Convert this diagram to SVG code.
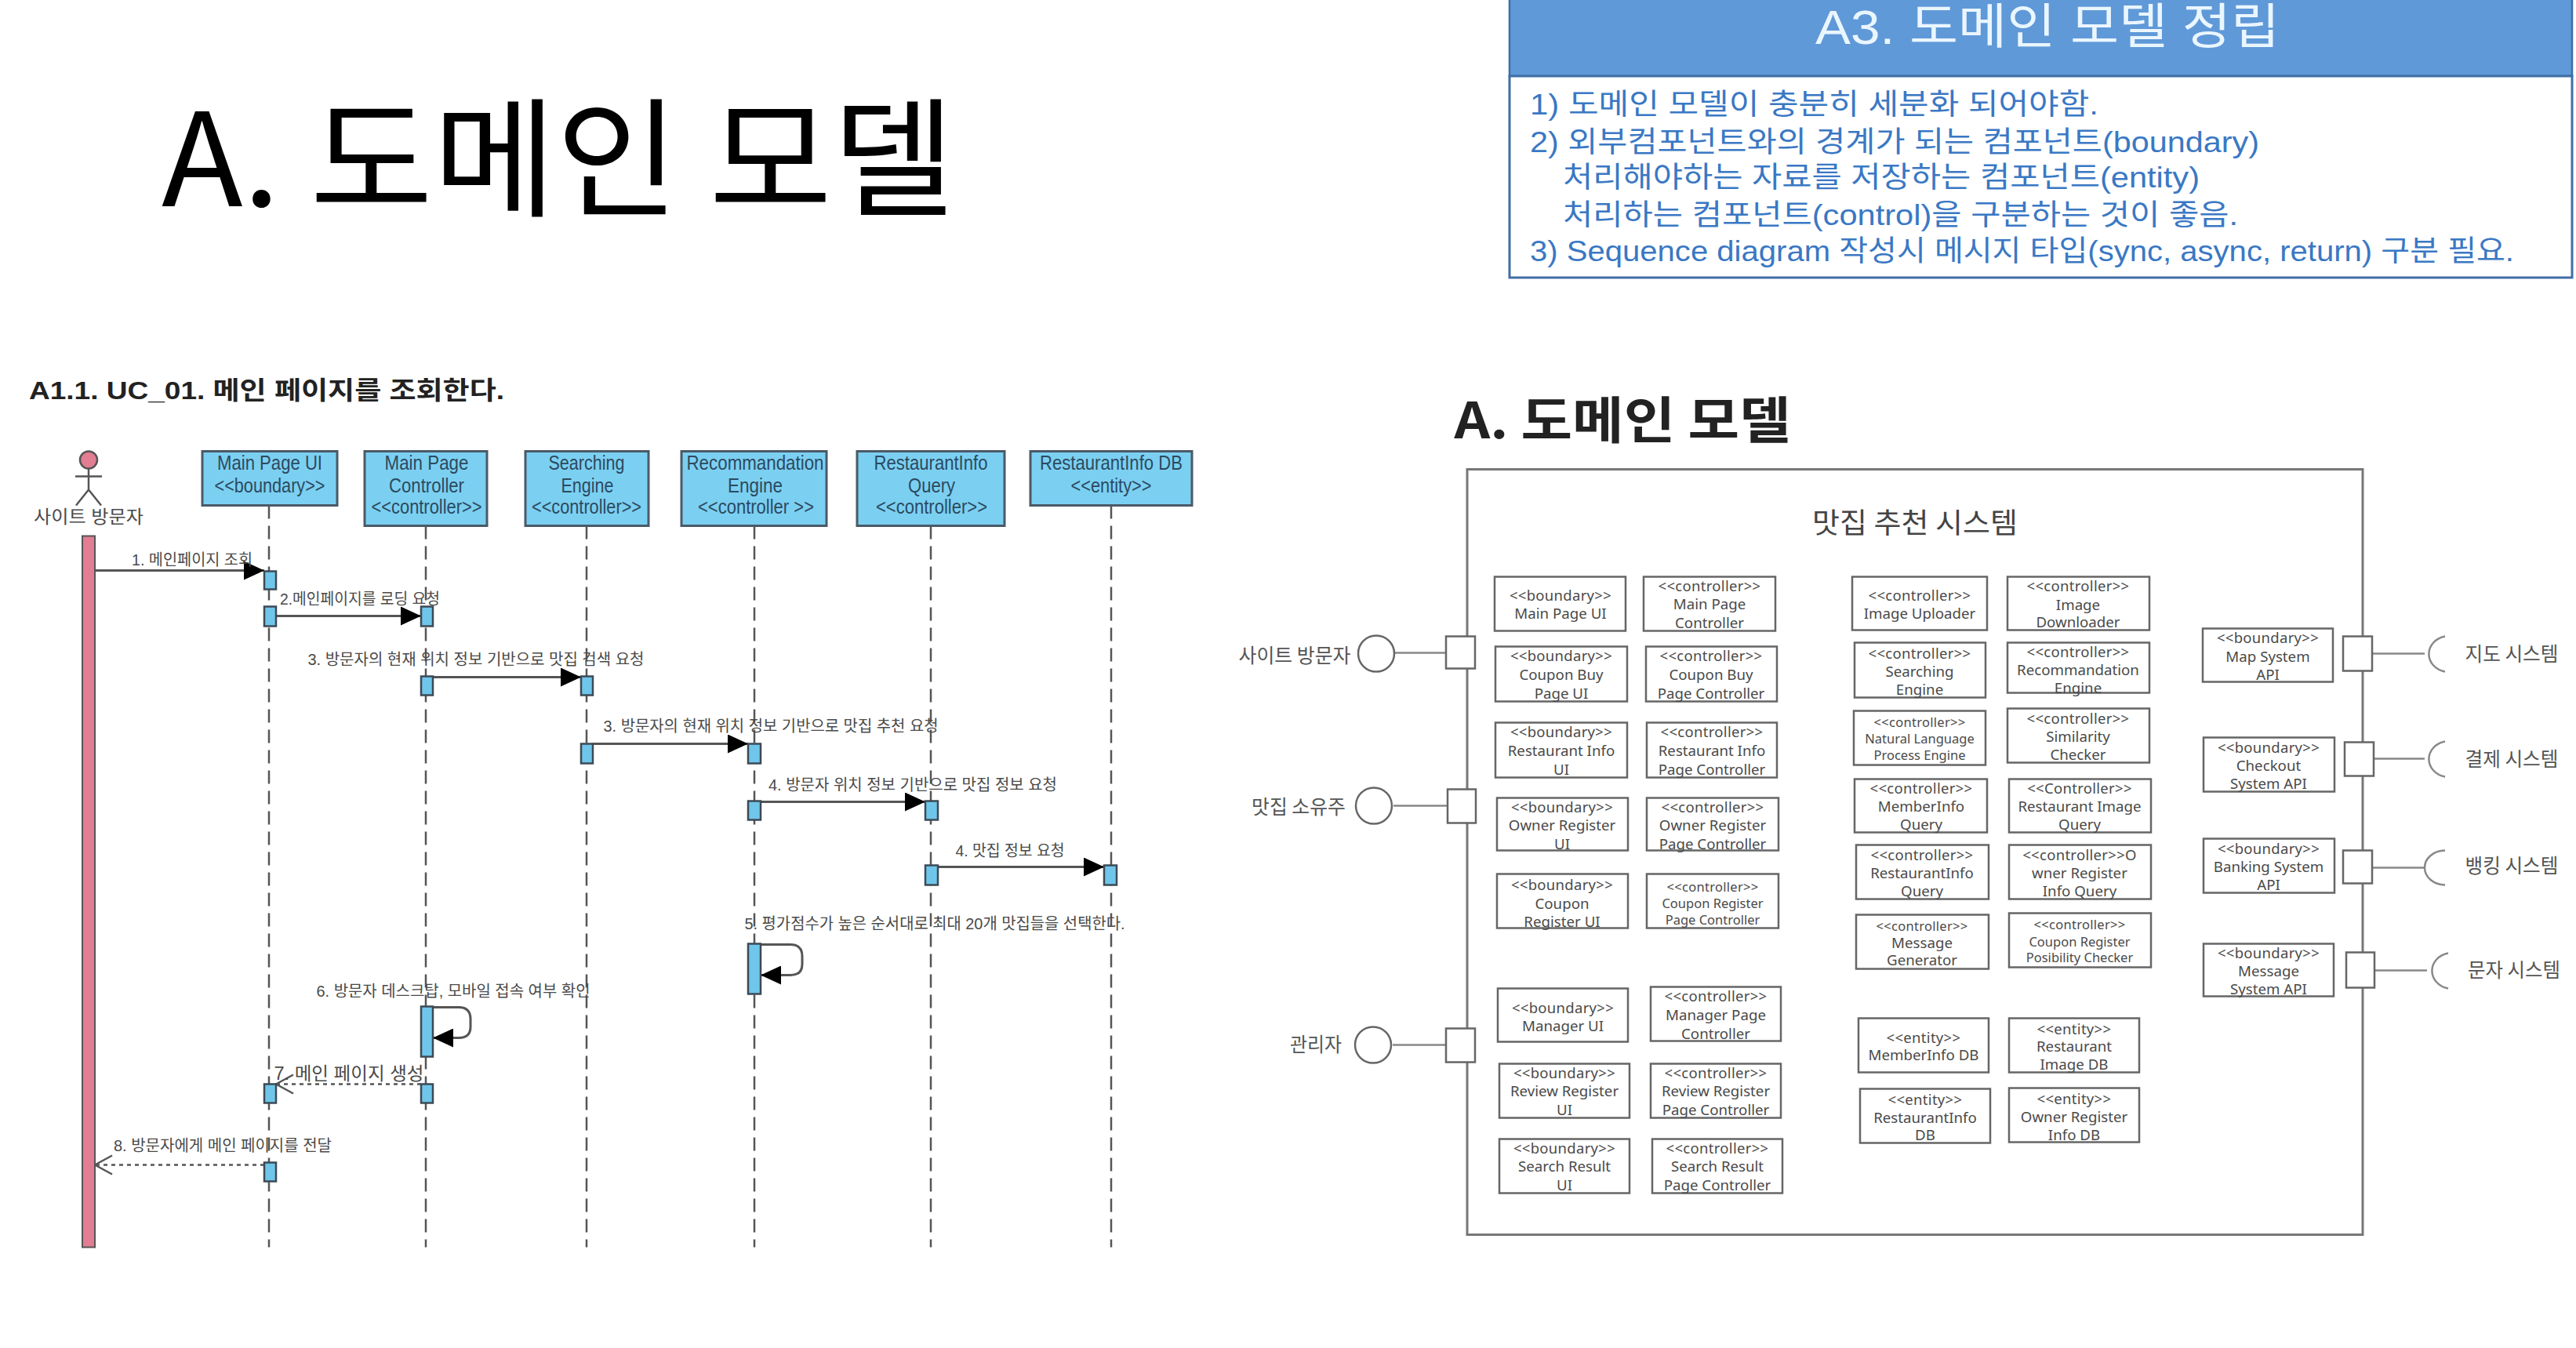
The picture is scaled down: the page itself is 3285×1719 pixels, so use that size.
<svg xmlns="http://www.w3.org/2000/svg" width="3285" height="1719" viewBox="0 0 3285 1719">
<style>
text{font-family:"Noto Sans","Noto Sans CJK KR",sans-serif;text-anchor:middle}
.kr{font-family:"Noto Sans CJK KR","Noto Sans",sans-serif}
.ar{font-family:"Liberation Sans","Noto Sans CJK KR",sans-serif}
.ll{fill:#7BD0F2;stroke:#4a5a66;stroke-width:3}
.act{fill:#6FC6EA;stroke:#3d4a55;stroke-width:2.5}
.lt{font-family:"Liberation Sans","Noto Sans CJK KR",sans-serif;font-size:25px;fill:#2c4a60}
.msg{font-family:"Liberation Sans","Noto Sans CJK KR",sans-serif;font-size:20px;fill:#4a4a4a}
.life{stroke:#555;stroke-width:2.5;stroke-dasharray:17 9;fill:none}
.sync{stroke:#555;stroke-width:3;fill:none;marker-end:url(#fill)}
.ret{stroke:#555;stroke-width:2.5;stroke-dasharray:5 5;fill:none;marker-end:url(#open)}
.box{fill:#fff;stroke:#666;stroke-width:2.5}
.bt{font-size:18.7px;fill:#4a4a4a}
.st{font-size:18.5px;fill:#4a4a4a;letter-spacing:.3px}
.bt.sm,.st.sm{font-size:16.5px}
.port{fill:#fff;stroke:#666;stroke-width:2.5}
.wire{stroke:#888;stroke-width:2.5;fill:none}
.lab{font-size:25px;fill:#555;font-family:"Noto Sans CJK KR",sans-serif}
.a3{font-size:37px;fill:#3A78C4;text-anchor:start;font-family:"Liberation Sans","Noto Sans CJK KR",sans-serif}
</style>
<defs>
<marker id="fill" markerUnits="userSpaceOnUse" markerWidth="26" markerHeight="24" refX="26" refY="12" orient="auto"><path d="M0 0L26 12L0 24z" fill="#000"/></marker>
<marker id="open" markerUnits="userSpaceOnUse" markerWidth="26" markerHeight="28" refX="24" refY="14" orient="auto"><path d="M2 2L24 14L2 26" fill="none" stroke="#555" stroke-width="2.5"/></marker>
</defs>
<rect width="3285" height="1719" fill="#fff"/>

<text class="kr" x="712" y="263" font-size="165" fill="#000" textLength="1012" lengthAdjust="spacingAndGlyphs">A. 도메인 모델</text>
<text class="ar" x="340" y="509" font-size="32" font-weight="700" fill="#222" textLength="606" lengthAdjust="spacingAndGlyphs">A1.1. UC_01. 메인 페이지를 조회한다.</text>

<g id="note-a3">
<rect x="1925" y="-3" width="1355" height="100" fill="#6099D8" stroke="#3F6EA6" stroke-width="2.5"/>
<rect x="1925" y="97" width="1355" height="257" fill="#fff" stroke="#3F6EA6" stroke-width="3"/>
<text class="ar" x="2611" y="56" font-size="62" fill="#EAF6FF" textLength="592" lengthAdjust="spacingAndGlyphs">A3. 도메인 모델 정립</text>
<text class="a3" x="1951" y="146" textLength="725" lengthAdjust="spacingAndGlyphs">1) 도메인 모델이 충분히 세분화 되어야함.</text>
<text class="a3" x="1951" y="194" textLength="930" lengthAdjust="spacingAndGlyphs">2) 외부컴포넌트와의 경계가 되는 컴포넌트(boundary)</text>
<text class="a3" x="1993" y="239" textLength="812" lengthAdjust="spacingAndGlyphs">처리해야하는 자료를 저장하는 컴포넌트(entity)</text>
<text class="a3" x="1993" y="287" textLength="861" lengthAdjust="spacingAndGlyphs">처리하는 컴포넌트(control)을 구분하는 것이 좋음.</text>
<text class="a3" x="1951" y="333" textLength="1255" lengthAdjust="spacingAndGlyphs">3) Sequence diagram 작성시 메시지 타입(sync, async, return) 구분 필요.</text>
</g>

<g id="page" transform="translate(0 1.5)">
<g id="connectors">
<path class="life" d="M343 643V1589"/>
<path class="life" d="M543 669V1589"/>
<path class="life" d="M748 669V1589"/>
<path class="life" d="M962 669V1589"/>
<path class="life" d="M1187 669V1589"/>
<path class="life" d="M1417 643V1589"/>
<path class="sync" d="M121 726H337"/>
<path class="sync" d="M352 784H537"/>
<path class="sync" d="M552 862H741"/>
<path class="sync" d="M756 947H954"/>
<path class="sync" d="M970 1021H1180"/>
<path class="sync" d="M1196 1104H1408"/>
<path class="sync" d="M970 1203H1008Q1023 1203 1023 1218V1228Q1023 1242 1008 1242H970"/>
<path class="sync" d="M552 1283H585Q600 1283 600 1298V1308Q600 1322 585 1322H552"/>
<path class="ret" d="M537 1381H352"/>
<path class="ret" d="M337 1484H121"/>
<path class="wire" d="M1779 831H1844"/>
<path class="wire" d="M1777 1026H1846"/>
<path class="wire" d="M1776 1331H1844"/>
<path class="wire" d="M3025 832H3092"/>
<path class="wire" d="M3027 966H3092"/>
<path class="wire" d="M3025 1105H3092"/>
<path class="wire" d="M3028 1236H3095"/>
<text class="msg" x="245" y="719" textLength="154" lengthAdjust="spacingAndGlyphs">1. 메인페이지 조회</text>
<text class="msg" x="459" y="769" textLength="204" lengthAdjust="spacingAndGlyphs">2.메인페이지를 로딩 요청</text>
<text class="msg" x="607" y="846" textLength="429" lengthAdjust="spacingAndGlyphs">3. 방문자의 현재 위치 정보 기반으로 맛집 검색 요청</text>
<text class="msg" x="983" y="931" textLength="427" lengthAdjust="spacingAndGlyphs">3. 방문자의 현재 위치 정보 기반으로 맛집 추천 요청</text>
<text class="msg" x="1164" y="1006" textLength="368" lengthAdjust="spacingAndGlyphs">4. 방문자 위치 정보 기반으로 맛집 정보 요청</text>
<text class="msg" x="1288" y="1090" textLength="139" lengthAdjust="spacingAndGlyphs">4. 맛집 정보 요청</text>
<text class="msg" x="1192" y="1183" textLength="485" lengthAdjust="spacingAndGlyphs">5. 평가점수가 높은 순서대로 최대 20개 맛집들을 선택한다.</text>
<text class="msg" x="578" y="1269" textLength="349" lengthAdjust="spacingAndGlyphs">6. 방문자 데스크탑, 모바일 접속 여부 확인</text>
<text class="msg" x="445" y="1375" style="font-size:23px" textLength="191" lengthAdjust="spacingAndGlyphs">7. 메인 페이지 생성</text>
<text class="msg" x="284" y="1466" textLength="278" lengthAdjust="spacingAndGlyphs">8. 방문자에게 메인 페이지를 전달</text>
</g>

<g id="actor-visitor">
<ellipse cx="113" cy="585" rx="11" ry="11" fill="#E27D93" stroke="#555" stroke-width="2.5"/>
<path d="M113 596V623M96 606H130M97 643L113 623L129 643" fill="none" stroke="#555" stroke-width="2.5"/>
<text class="msg" x="113" y="665" style="font-size:23px" textLength="140" lengthAdjust="spacingAndGlyphs">사이트 방문자</text>
<rect x="105" y="682" width="16" height="907" fill="#E27D93" stroke="#555" stroke-width="2"/>
</g>
<g id="ll-main-page-ui">
<rect class="ll" x="258" y="574" width="172" height="69"/>
<text class="lt" x="344" y="597" textLength="134" lengthAdjust="spacingAndGlyphs">Main Page UI</text>
<text class="lt" x="344" y="626" textLength="141" lengthAdjust="spacingAndGlyphs">&lt;&lt;boundary&gt;&gt;</text>
<rect class="act" x="337" y="727" width="15" height="23"/>
<rect class="act" x="337" y="772" width="15" height="25"/>
<rect class="act" x="337" y="1381" width="15" height="24"/>
<rect class="act" x="337" y="1481" width="15" height="24"/>
</g>
<g id="ll-main-page-controller">
<rect class="ll" x="465" y="574" width="156" height="95"/>
<text class="lt" x="544" y="597" textLength="107" lengthAdjust="spacingAndGlyphs">Main Page</text>
<text class="lt" x="544" y="626" textLength="96" lengthAdjust="spacingAndGlyphs">Controller</text>
<text class="lt" x="544" y="653" textLength="141" lengthAdjust="spacingAndGlyphs">&lt;&lt;controller&gt;&gt;</text>
<rect class="act" x="537" y="772" width="15" height="25"/>
<rect class="act" x="537" y="861" width="15" height="24"/>
<rect class="act" x="537" y="1282" width="15" height="64"/>
<rect class="act" x="537" y="1381" width="15" height="24"/>
</g>
<g id="ll-searching-engine">
<rect class="ll" x="670" y="574" width="157" height="95"/>
<text class="lt" x="748" y="597" textLength="97" lengthAdjust="spacingAndGlyphs">Searching</text>
<text class="lt" x="749" y="626" textLength="67" lengthAdjust="spacingAndGlyphs">Engine</text>
<text class="lt" x="748" y="653" textLength="140" lengthAdjust="spacingAndGlyphs">&lt;&lt;controller&gt;&gt;</text>
<rect class="act" x="741" y="861" width="15" height="24"/>
<rect class="act" x="741" y="947" width="15" height="25"/>
</g>
<g id="ll-recommandation-engine">
<rect class="ll" x="869" y="574" width="185" height="95"/>
<text class="lt" x="963" y="597" textLength="175" lengthAdjust="spacingAndGlyphs">Recommandation</text>
<text class="lt" x="963" y="626" textLength="70" lengthAdjust="spacingAndGlyphs">Engine</text>
<text class="lt" x="964" y="653" textLength="148" lengthAdjust="spacingAndGlyphs">&lt;&lt;controller &gt;&gt;</text>
<rect class="act" x="954" y="947" width="16" height="25"/>
<rect class="act" x="954" y="1020" width="16" height="24"/>
<rect class="act" x="954" y="1202" width="16" height="64"/>
</g>
<g id="ll-restaurantinfo-query">
<rect class="ll" x="1093" y="574" width="188" height="95"/>
<text class="lt" x="1187" y="597" textLength="145" lengthAdjust="spacingAndGlyphs">RestaurantInfo</text>
<text class="lt" x="1188" y="626" textLength="60" lengthAdjust="spacingAndGlyphs">Query</text>
<text class="lt" x="1188" y="653" textLength="142" lengthAdjust="spacingAndGlyphs">&lt;&lt;controller&gt;&gt;</text>
<rect class="act" x="1180" y="1020" width="16" height="24"/>
<rect class="act" x="1180" y="1102" width="16" height="25"/>
</g>
<g id="ll-restaurantinfo-db">
<rect class="ll" x="1314" y="574" width="206" height="69"/>
<text class="lt" x="1417" y="597" textLength="182" lengthAdjust="spacingAndGlyphs">RestaurantInfo DB</text>
<text class="lt" x="1417" y="626" textLength="103" lengthAdjust="spacingAndGlyphs">&lt;&lt;entity&gt;&gt;</text>
<rect class="act" x="1408" y="1102" width="16" height="25"/>
</g>

<text class="kr" x="2069" y="557" font-size="64" font-weight="700" fill="#222" textLength="429" lengthAdjust="spacingAndGlyphs">A. 도메인 모델</text>

<g id="system">
<rect x="1871" y="597" width="1142" height="976" fill="#fff" stroke="#777" stroke-width="3"/>
<text class="kr" x="2442" y="678" font-size="36" fill="#444" textLength="262" lengthAdjust="spacingAndGlyphs">맛집 추천 시스템</text>
</g>

<g id="b-main-page-ui"><rect class="box" x="1906" y="734" width="167" height="69"/><text class="st" x="1990" y="764">&lt;&lt;boundary&gt;&gt;</text><text class="bt" x="1990" y="787">Main Page UI</text></g>
<g id="c-main-page"><rect class="box" x="2096" y="734" width="168" height="69"/><text class="st" x="2180" y="752">&lt;&lt;controller&gt;&gt;</text><text class="bt" x="2180" y="775">Main Page</text><text class="bt" x="2180" y="799">Controller</text></g>
<g id="b-coupon-buy"><rect class="box" x="1907" y="823" width="168" height="70"/><text class="st" x="1991" y="841">&lt;&lt;boundary&gt;&gt;</text><text class="bt" x="1991" y="865">Coupon Buy</text><text class="bt" x="1991" y="889">Page UI</text></g>
<g id="c-coupon-buy"><rect class="box" x="2099" y="823" width="167" height="70"/><text class="st" x="2182" y="841">&lt;&lt;controller&gt;&gt;</text><text class="bt" x="2182" y="865">Coupon Buy</text><text class="bt" x="2182" y="889">Page Controller</text></g>
<g id="b-restaurant-info"><rect class="box" x="1907" y="920" width="168" height="70"/><text class="st" x="1991" y="938">&lt;&lt;boundary&gt;&gt;</text><text class="bt" x="1991" y="962">Restaurant Info</text><text class="bt" x="1991" y="986">UI</text></g>
<g id="c-restaurant-info"><rect class="box" x="2100" y="920" width="166" height="70"/><text class="st" x="2183" y="938">&lt;&lt;controller&gt;&gt;</text><text class="bt" x="2183" y="962">Restaurant Info</text><text class="bt" x="2183" y="986">Page Controller</text></g>
<g id="b-owner-register"><rect class="box" x="1909" y="1016" width="167" height="67"/><text class="st" x="1992" y="1034">&lt;&lt;boundary&gt;&gt;</text><text class="bt" x="1992" y="1057">Owner Register</text><text class="bt" x="1992" y="1081">UI</text></g>
<g id="c-owner-register"><rect class="box" x="2100" y="1016" width="168" height="67"/><text class="st" x="2184" y="1034">&lt;&lt;controller&gt;&gt;</text><text class="bt" x="2184" y="1057">Owner Register</text><text class="bt" x="2184" y="1081">Page Controller</text></g>
<g id="b-coupon-register"><rect class="box" x="1909" y="1113" width="167" height="69"/><text class="st" x="1992" y="1133">&lt;&lt;boundary&gt;&gt;</text><text class="bt" x="1992" y="1157">Coupon</text><text class="bt" x="1992" y="1180">Register UI</text></g>
<g id="c-coupon-register"><rect class="box" x="2100" y="1113" width="168" height="69"/><text class="st sm" x="2184" y="1135">&lt;&lt;controller&gt;&gt;</text><text class="bt sm" x="2184" y="1156">Coupon Register</text><text class="bt sm" x="2184" y="1177">Page Controller</text></g>
<g id="b-manager"><rect class="box" x="1910" y="1259" width="166" height="68"/><text class="st" x="1993" y="1290">&lt;&lt;boundary&gt;&gt;</text><text class="bt" x="1993" y="1313">Manager UI</text></g>
<g id="c-manager"><rect class="box" x="2105" y="1257" width="166" height="69"/><text class="st" x="2188" y="1275">&lt;&lt;controller&gt;&gt;</text><text class="bt" x="2188" y="1299">Manager Page</text><text class="bt" x="2188" y="1323">Controller</text></g>
<g id="b-review-register"><rect class="box" x="1912" y="1355" width="166" height="69"/><text class="st" x="1995" y="1373">&lt;&lt;boundary&gt;&gt;</text><text class="bt" x="1995" y="1396">Review Register</text><text class="bt" x="1995" y="1420">UI</text></g>
<g id="c-review-register"><rect class="box" x="2105" y="1355" width="166" height="69"/><text class="st" x="2188" y="1373">&lt;&lt;controller&gt;&gt;</text><text class="bt" x="2188" y="1396">Review Register</text><text class="bt" x="2188" y="1420">Page Controller</text></g>
<g id="b-search-result"><rect class="box" x="1912" y="1451" width="166" height="69"/><text class="st" x="1995" y="1469">&lt;&lt;boundary&gt;&gt;</text><text class="bt" x="1995" y="1492">Search Result</text><text class="bt" x="1995" y="1516">UI</text></g>
<g id="c-search-result"><rect class="box" x="2107" y="1451" width="166" height="69"/><text class="st" x="2190" y="1469">&lt;&lt;controller&gt;&gt;</text><text class="bt" x="2190" y="1492">Search Result</text><text class="bt" x="2190" y="1516">Page Controller</text></g>

<g id="c-image-uploader"><rect class="box" x="2362" y="734" width="172" height="68"/><text class="st" x="2448" y="764">&lt;&lt;controller&gt;&gt;</text><text class="bt" x="2448" y="787">Image Uploader</text></g>
<g id="c-image-downloader"><rect class="box" x="2560" y="734" width="181" height="68"/><text class="st" x="2650" y="752">&lt;&lt;controller&gt;&gt;</text><text class="bt" x="2650" y="776">Image</text><text class="bt" x="2650" y="798">Downloader</text></g>
<g id="c-searching"><rect class="box" x="2365" y="818" width="167" height="70"/><text class="st" x="2448" y="838">&lt;&lt;controller&gt;&gt;</text><text class="bt" x="2448" y="861">Searching</text><text class="bt" x="2448" y="884">Engine</text></g>
<g id="c-recommandation"><rect class="box" x="2560" y="818" width="181" height="64"/><text class="st" x="2650" y="836">&lt;&lt;controller&gt;&gt;</text><text class="bt" x="2650" y="859">Recommandation</text><text class="bt" x="2650" y="882">Engine</text></g>
<g id="c-natural-language"><rect class="box" x="2364" y="905" width="168" height="69"/><text class="st sm" x="2448" y="925">&lt;&lt;controller&gt;&gt;</text><text class="bt sm" x="2448" y="946">Natural Language</text><text class="bt sm" x="2448" y="967">Process Engine</text></g>
<g id="c-similarity"><rect class="box" x="2560" y="902" width="181" height="69"/><text class="st" x="2650" y="921">&lt;&lt;controller&gt;&gt;</text><text class="bt" x="2650" y="944">Similarity</text><text class="bt" x="2650" y="967">Checker</text></g>
<g id="c-memberinfo"><rect class="box" x="2365" y="992" width="169" height="68"/><text class="st" x="2450" y="1010">&lt;&lt;controller&gt;&gt;</text><text class="bt" x="2450" y="1033">MemberInfo</text><text class="bt" x="2450" y="1056">Query</text></g>
<g id="c-restaurant-image"><rect class="box" x="2562" y="992" width="181" height="68"/><text class="st" x="2652" y="1010">&lt;&lt;Controller&gt;&gt;</text><text class="bt" x="2652" y="1033">Restaurant Image</text><text class="bt" x="2652" y="1056">Query</text></g>
<g id="c-restaurantinfo"><rect class="box" x="2367" y="1076" width="169" height="69"/><text class="st" x="2451" y="1095">&lt;&lt;controller&gt;&gt;</text><text class="bt" x="2451" y="1118">RestaurantInfo</text><text class="bt" x="2451" y="1141">Query</text></g>
<g id="c-owner-info"><rect class="box" x="2562" y="1076" width="181" height="69"/><text class="st" x="2652" y="1095">&lt;&lt;controller&gt;&gt;O</text><text class="bt" x="2652" y="1118">wner Register</text><text class="bt" x="2652" y="1141">Info Query</text></g>
<g id="c-message"><rect class="box" x="2367" y="1165" width="169" height="69"/><text class="st sm" x="2451" y="1185">&lt;&lt;controller&gt;&gt;</text><text class="bt" x="2451" y="1207">Message</text><text class="bt" x="2451" y="1229">Generator</text></g>
<g id="c-coupon-possibility"><rect class="box" x="2562" y="1163" width="181" height="69"/><text class="st sm" x="2652" y="1183">&lt;&lt;controller&gt;&gt;</text><text class="bt sm" x="2652" y="1205">Coupon Register</text><text class="bt sm" x="2652" y="1225">Posibility Checker</text></g>

<g id="e-memberinfo"><rect class="box" x="2370" y="1297" width="166" height="69"/><text class="st" x="2453" y="1328">&lt;&lt;entity&gt;&gt;</text><text class="bt" x="2453" y="1350">MemberInfo DB</text></g>
<g id="e-restaurant-image"><rect class="box" x="2562" y="1297" width="166" height="69"/><text class="st" x="2645" y="1317">&lt;&lt;entity&gt;&gt;</text><text class="bt" x="2645" y="1339">Restaurant</text><text class="bt" x="2645" y="1362">Image DB</text></g>
<g id="e-restaurantinfo"><rect class="box" x="2372" y="1387" width="166" height="69"/><text class="st" x="2455" y="1407">&lt;&lt;entity&gt;&gt;</text><text class="bt" x="2455" y="1430">RestaurantInfo</text><text class="bt" x="2455" y="1452">DB</text></g>
<g id="e-owner-info"><rect class="box" x="2562" y="1386" width="166" height="69"/><text class="st" x="2645" y="1406">&lt;&lt;entity&gt;&gt;</text><text class="bt" x="2645" y="1429">Owner Register</text><text class="bt" x="2645" y="1452">Info DB</text></g>

<g id="b-map-api"><rect class="box" x="2809" y="800" width="166" height="68"/><text class="st" x="2892" y="818">&lt;&lt;boundary&gt;&gt;</text><text class="bt" x="2892" y="842">Map System</text><text class="bt" x="2892" y="865">API</text></g>
<g id="b-checkout-api"><rect class="box" x="2810" y="939" width="167" height="69"/><text class="st" x="2893" y="958">&lt;&lt;boundary&gt;&gt;</text><text class="bt" x="2893" y="981">Checkout</text><text class="bt" x="2893" y="1004">System API</text></g>
<g id="b-banking-api"><rect class="box" x="2810" y="1068" width="167" height="69"/><text class="st" x="2893" y="1087">&lt;&lt;boundary&gt;&gt;</text><text class="bt" x="2893" y="1110">Banking System</text><text class="bt" x="2893" y="1133">API</text></g>
<g id="b-message-api"><rect class="box" x="2810" y="1202" width="166" height="67"/><text class="st" x="2893" y="1220">&lt;&lt;boundary&gt;&gt;</text><text class="bt" x="2893" y="1243">Message</text><text class="bt" x="2893" y="1266">System API</text></g>

<g id="if-visitor"><rect class="port" x="1844" y="810" width="37" height="41"/><circle cx="1755" cy="832" r="23" fill="#fff" stroke="#666" stroke-width="2.5"/><text class="lab" x="1651" y="843" textLength="143" lengthAdjust="spacingAndGlyphs">사이트 방문자</text></g>
<g id="if-owner"><rect class="port" x="1846" y="1005" width="36" height="43"/><circle cx="1752" cy="1026" r="23" fill="#fff" stroke="#666" stroke-width="2.5"/><text class="lab" x="1656" y="1036" textLength="120" lengthAdjust="spacingAndGlyphs">맛집 소유주</text></g>
<g id="if-admin"><rect class="port" x="1844" y="1310" width="37" height="43"/><circle cx="1751" cy="1331" r="23" fill="#fff" stroke="#666" stroke-width="2.5"/><text class="lab" x="1678" y="1339" textLength="66" lengthAdjust="spacingAndGlyphs">관리자</text></g>

<g id="if-map"><rect class="port" x="2988" y="810" width="37" height="44"/><path class="wire" d="M3118 810A26 23 0 0 0 3118 855"/><text class="lab" x="3203" y="841" textLength="119" lengthAdjust="spacingAndGlyphs">지도 시스템</text></g>
<g id="if-checkout"><rect class="port" x="2990" y="945" width="37" height="43"/><path class="wire" d="M3118 944A26 23 0 0 0 3118 989"/><text class="lab" x="3203" y="975" textLength="119" lengthAdjust="spacingAndGlyphs">결제 시스템</text></g>
<g id="if-banking"><rect class="port" x="2988" y="1083" width="37" height="42"/><path class="wire" d="M3118 1083A26 22 0 0 0 3118 1127"/><text class="lab" x="3203" y="1111" textLength="119" lengthAdjust="spacingAndGlyphs">뱅킹 시스템</text></g>
<g id="if-sms"><rect class="port" x="2992" y="1213" width="36" height="45"/><path class="wire" d="M3122 1214A26 23 0 0 0 3122 1259"/><text class="lab" x="3206" y="1244" textLength="118" lengthAdjust="spacingAndGlyphs">문자 시스템</text></g>
</g>
</svg>
